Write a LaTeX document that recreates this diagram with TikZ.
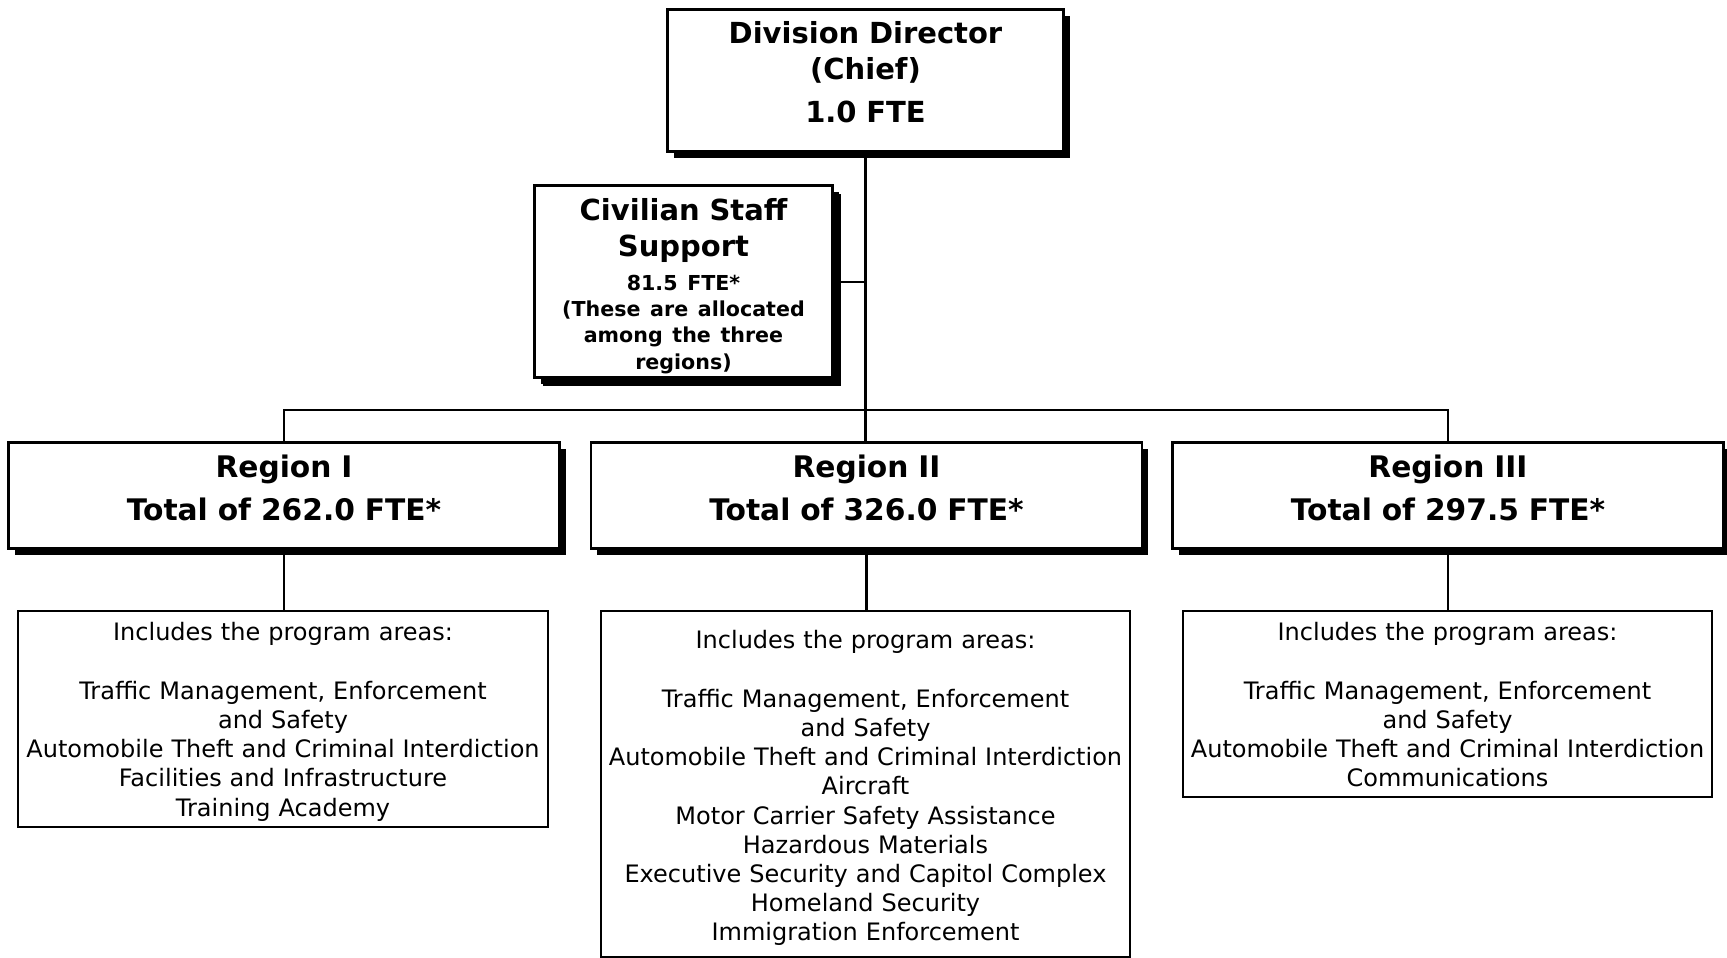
\documentclass[tikz,border=0pt]{standalone}
\usepackage{fontspec}
\setmainfont{DejaVu Sans}
\usetikzlibrary{shadows}

\begin{document}
\begin{tikzpicture}[x=1pt,y=-1pt,
  headbox/.style={draw,line width=2.6pt,fill=white,inner sep=0pt,anchor=north,align=center,
    font=\bfseries\fontsize{29}{36}\selectfont,
    drop shadow={shadow xshift=6.3pt,shadow yshift=-6.3pt,fill=black,opacity=1}},
  areabox/.style={draw,line width=1.8pt,fill=white,inner sep=0pt,anchor=north,align=center,
    font=\fontsize{24}{29.2}\selectfont},
  link/.style={line width=2.2pt}]
  \useasboundingbox (0,0) rectangle (1727,958);
  % top of the chart
  \node[headbox,text width=396pt,text height=34pt,text depth=108pt] (chief) at (865.5,8.3)
    {Division Director\\(Chief)\\[7pt]1.0 FTE\par};
  \node[headbox,text width=298pt,text height=35pt,text depth=157pt,
    drop shadow={shadow xshift=8.5pt,shadow yshift=-8.5pt,fill=black,opacity=1}] (staff) at (683.5,184.3)
    {Civilian Staff\\Support\par\vspace{7pt}\fontsize{20.6}{26.4}\selectfont 81.5 FTE*\\(These are allocated\\among the three\\regions)\par};
  % regions
  \node[headbox,font=\bfseries\fontsize{29.7}{36}\selectfont,text width=551pt,text height=35pt,text depth=71pt] (reg1) at (284,441.3)
    {Region I\\[7pt]Total of 262.0 FTE*\par};
  \node[headbox,font=\bfseries\fontsize{29.7}{36}\selectfont,text width=551pt,text height=35pt,text depth=71pt] (reg2) at (866.5,441.3)
    {Region II\\[7pt]Total of 326.0 FTE*\par};
  \node[headbox,font=\bfseries\fontsize{29.7}{36}\selectfont,text width=551pt,text height=35pt,text depth=71pt] (reg3) at (1448,441.3)
    {Region III\\[7pt]Total of 297.5 FTE*\par};
  % program areas
  \node[areabox,text width=530pt,text height=30pt,text depth=186pt] (area1) at (283,609.9)
    {Includes the program areas:\\[29.2pt]Traffic Management, Enforcement\\and Safety\\Automobile Theft and Criminal Interdiction\\Facilities and Infrastructure\\Training Academy\par};
  \node[areabox,text width=529pt,text height=38pt,text depth=308pt] (area2) at (865.5,609.9)
    {Includes the program areas:\\[29.2pt]Traffic Management, Enforcement\\and Safety\\Automobile Theft and Criminal Interdiction\\Aircraft\\Motor Carrier Safety Assistance\\Hazardous Materials\\Executive Security and Capitol Complex\\Homeland Security\\Immigration Enforcement\par};
  \node[areabox,text width=529pt,text height=30pt,text depth=156pt] (area3) at (1447.5,609.9)
    {Includes the program areas:\\[29.2pt]Traffic Management, Enforcement\\and Safety\\Automobile Theft and Criminal Interdiction\\Communications\par};
  % connectors
  \draw[link] (chief.south) -- (chief.south |- reg2.north);
  \draw[link] (staff.east) -- (staff.east -| chief.south);
  \draw[link] (reg1.north) -- ++(0,-31) -| (reg3.north);
  \draw[link] (reg1.south) -- (reg1.south |- area1.north);
  \draw[link] (reg2.south) -- (reg2.south |- area2.north);
  \draw[link] (reg3.south) -- (reg3.south |- area3.north);
\end{tikzpicture}
\end{document}
